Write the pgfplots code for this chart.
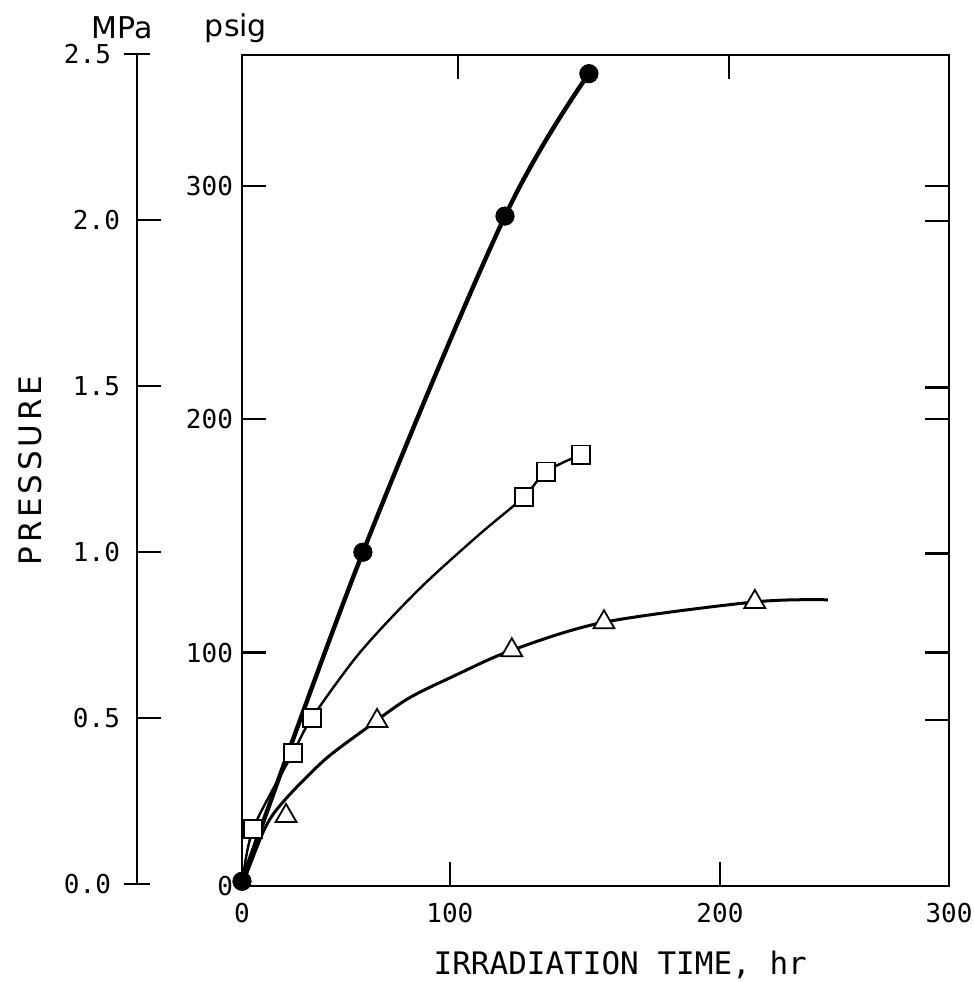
\documentclass[border=0pt]{standalone}
\usepackage{fontspec}
\usepackage{pgfplots}
\pgfplotsset{compat=1.18}
\setmainfont{DejaVu Sans Mono}
\newfontfamily\sansf{DejaVu Sans}
\newfontfamily\spaced[LetterSpace=12]{DejaVu Sans}
\begin{document}
\begin{tikzpicture}
\useasboundingbox (-121pt,-48pt) rectangle (366pt,443pt);
% MPa axis
\begin{axis}[
  at={(-52.5pt,1pt)}, anchor=south west,
  scale only axis, width=10pt, height=415pt,
  xmin=0, xmax=1, ymin=0, ymax=2.5,
  axis x line=none, axis y line*=left,
  axis line style={line width=1.2pt},
  tick style={line width=1.2pt, black},
  major tick length=12pt, tick align=inside,
  ytick={0.5,1,1.5,2}, yticklabels={0.5,1.0,1.5,2.0},
  extra y ticks={0,2.5}, extra y tick labels={0.0,2.5},
  extra y tick style={tick align=center, major tick length=13pt, yticklabel style={xshift=2pt}},
  yticklabel style={font=\fontsize{13}{15}\selectfont, anchor=east, xshift=-5pt},
  /pgf/number format/assume math mode=true,
]
\end{axis}
% right / top ticks
\begin{axis}[
  at={(0,0)}, anchor=south west,
  scale only axis, width=353.5pt, height=415.5pt,
  xmin=0, xmax=300, ymin=0, ymax=356,
  axis line style={draw=none},
  tick style={line width=1.2pt, black},
  major tick length=12pt, tick align=inside,
  xtick={91.6,206.6}, xtick pos=right, xticklabels={},
  ytick={71.2,100,142.4,200,213.6,284.8,300}, ytick pos=right, yticklabels={},
]
\end{axis}
% main axis
\begin{axis}[
  at={(0,0)}, anchor=south west,
  scale only axis, width=353.5pt, height=415.5pt,
  xmin=0, xmax=300, ymin=0, ymax=356,
  clip=false,
  axis line style={line width=1.3pt},
  tick style={line width=1.2pt, black},
  major tick length=12pt, tick align=inside,
  xtick={0,88.2,202.8,300}, xticklabels={0,100,200,300}, xtick pos=left,
  ytick={0,100,200,300}, yticklabels={0,100,200,300}, ytick pos=left,
  ticklabel style={font=\fontsize{13}{15}\selectfont},
  xticklabel style={yshift=-5pt},
  yticklabel style={xshift=-1pt},
  xlabel={IRRADIATION TIME, hr},
  xlabel style={font=\fontsize{15.5}{18}\selectfont, at={(axis description cs:0.535,-0.095)}, anchor=center},
  ylabel={PRESSURE},
  ylabel style={font=\spaced\fontsize{15.5}{18}\selectfont, at={(axis description cs:-0.3,0.5)}, anchor=center},
  /pgf/number format/assume math mode=true,
]
% filled circles
\addplot[line width=2.2pt, smooth, tension=0.55] coordinates {(0,2) (51.3,143) (111.6,287) (147.2,348)};
% squares curve
\addplot[line width=1.2pt, smooth, tension=0.5] coordinates {(0,0) (4.7,24.4) (21.6,57) (29.7,72) (50,100) (75,127) (100,150) (119.6,166.7) (129,177.5) (143.8,184.8)};
% triangles curve
\addplot[line width=1.5pt, smooth, tension=0.5] coordinates {(0,0) (9.8,24.9) (18.2,36.9) (35,54) (51.3,66.5) (70,80) (90,90) (114.5,101) (153.6,113) (217.6,121.7) (248.6,122.6)};
% markers
\addplot[only marks, mark=square*, mark size=4.6pt, mark options={fill=white, draw=black, line width=0.9pt}] coordinates {(4.7,24.4) (21.6,57) (29.7,72) (119.6,166.7) (129,177.5) (143.8,184.8)};
\addplot[only marks, mark=triangle*, mark size=6pt, mark options={fill=white, draw=black, line width=0.9pt}] coordinates {(18.7,30) (57.3,70.7) (114.5,101) (153.6,113) (217.6,121.7)};
\addplot[only marks, mark=*, mark size=4.6pt, mark options={fill=black, draw=black}] coordinates {(0,2) (51.3,143) (111.6,287) (147.2,348)};
\node[font=\sansf\fontsize{15}{18}\selectfont] at ([xshift=-60pt,yshift=429pt]rel axis cs:0,0) {MPa};
\node[font=\sansf\fontsize{15}{18}\selectfont] at ([xshift=-3pt,yshift=429pt]rel axis cs:0,0) {psig};
\end{axis}
\end{tikzpicture}
\end{document}
